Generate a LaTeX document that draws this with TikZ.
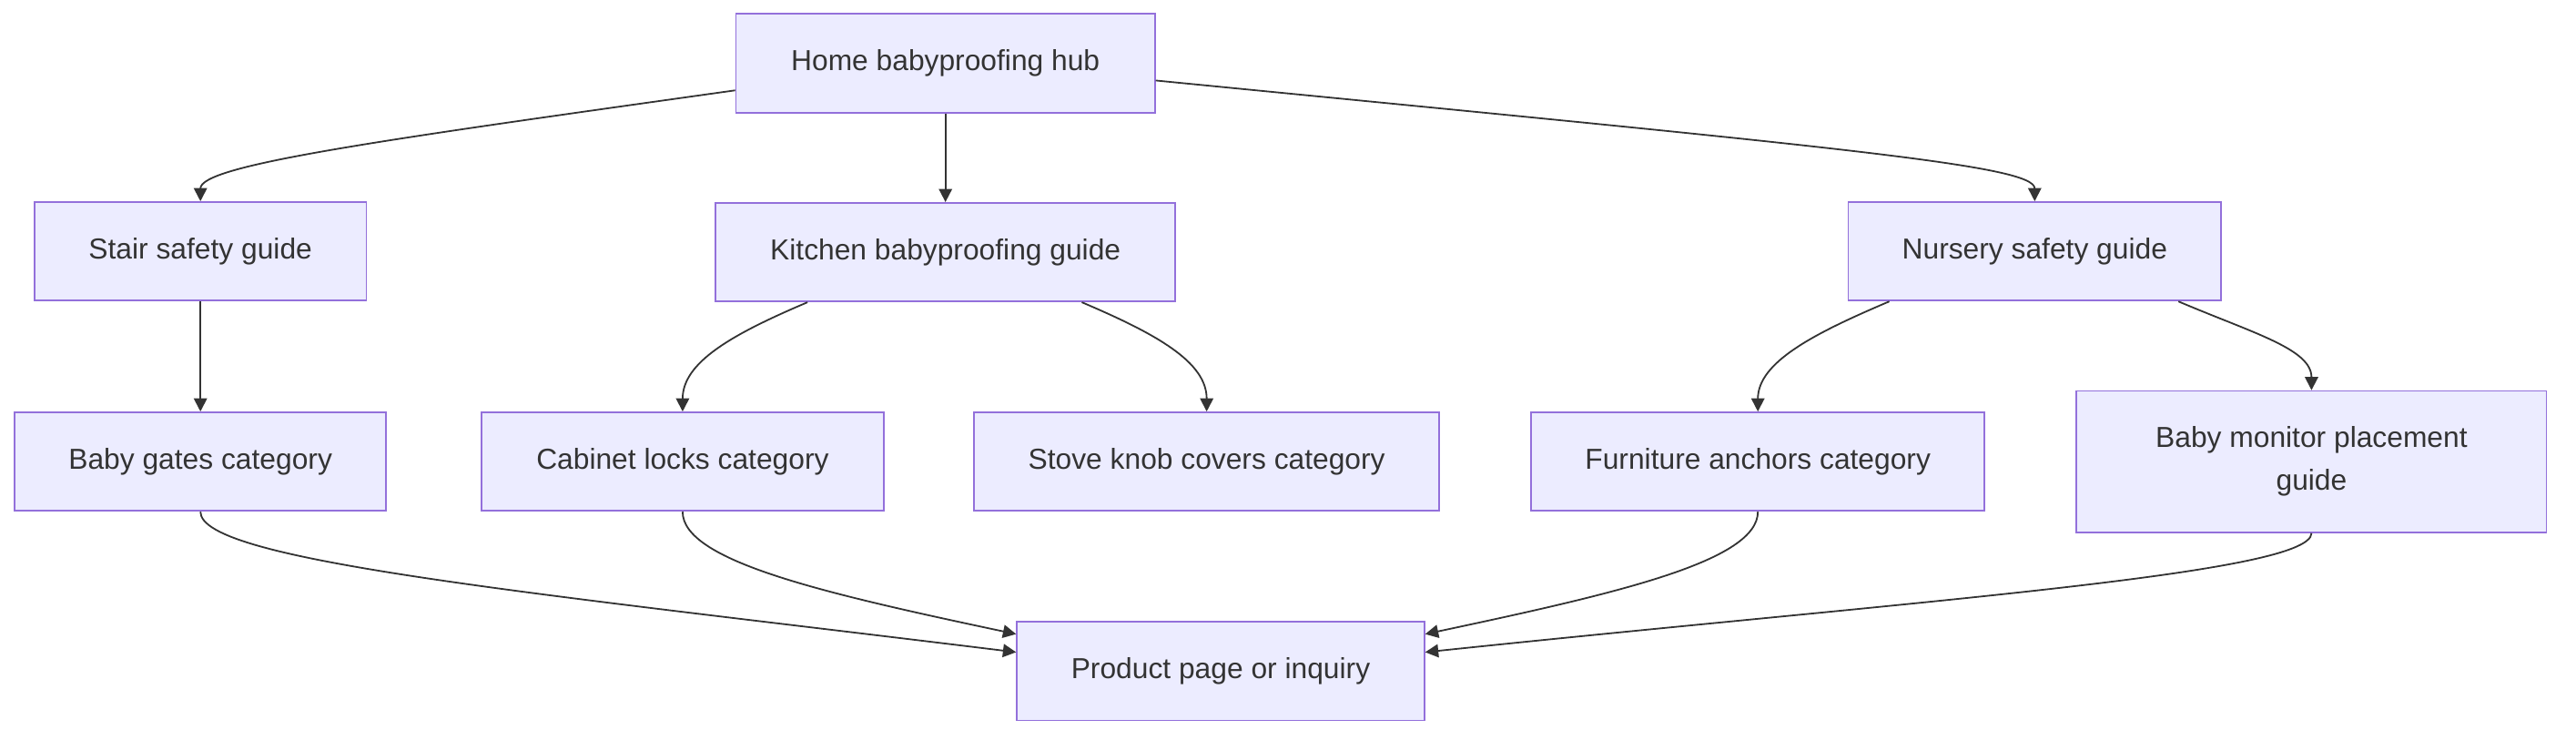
\documentclass[tikz,border=0pt]{standalone}
\usepackage{fontspec}
\setmainfont{Liberation Sans}
\usetikzlibrary{arrows.meta, positioning}
\definecolor{mmfill}{HTML}{ECECFF}
\definecolor{mmborder}{HTML}{9370DB}
\definecolor{mmtext}{HTML}{333333}
\tikzset{guidebox/.style={draw=mmborder, fill=mmfill, line width=1pt, text=mmtext, font=\fontsize{17.6}{26}\selectfont, minimum height=60pt, inner sep=0pt, align=center}}
\tikzset{flowarrow/.style={-{Triangle[length=8pt, width=8pt]}, draw=mmtext, line width=1pt}}

\begin{document}
\begin{tikzpicture}[x=1pt, y=1pt]
\useasboundingbox (0,0) rectangle (1568,-450);

% hub and guides
\node[guidebox, minimum width=255pt] (hub) at (575.5,-38.5) {Home babyproofing hub};
\node[guidebox, minimum width=202pt] (stair) at (122,-153) {Stair safety guide};
\node[guidebox, minimum width=280pt, below = 54pt of hub] (kitchen) {Kitchen babyproofing guide};
\node[guidebox, minimum width=227pt] (nursery) at (1238.5,-153) {Nursery safety guide};

% categories
\node[guidebox, minimum width=226pt, below = 67pt of stair] (gates) {Baby gates category};
\node[guidebox, minimum width=245pt] (cabinet) at (415.5,-281) {Cabinet locks category};
\node[guidebox, minimum width=283pt] (stove) at (734.5,-281) {Stove knob covers category};
\node[guidebox, minimum width=276pt] (furniture) at (1070,-281) {Furniture anchors category};
\node[guidebox, minimum width=286pt, minimum height=86pt] (monitor) at (1407,-281) {Baby monitor placement\\guide};

\node[guidebox, minimum width=248pt] (product) at (743,-408.5) {Product page or inquiry};

\draw[flowarrow] ([yshift=-16.5pt]hub.west) to[out=188, in=90, out distance=220pt, in distance=22pt] (stair.north);
\draw[flowarrow] (hub) -- (kitchen);
\draw[flowarrow] ([yshift=-10.5pt]hub.east) to[out=-5.6, in=90, out distance=420pt, in distance=22pt] (nursery.north);

\draw[flowarrow] (stair) -- (gates);
\draw[flowarrow] ([xshift=-84pt]kitchen.south) to[out=203, in=90, out distance=50pt, in distance=30pt] (cabinet.north);
\draw[flowarrow] ([xshift=83pt]kitchen.south) to[out=-23, in=90, out distance=50pt, in distance=30pt] (stove.north);
\draw[flowarrow] ([xshift=-88.5pt]nursery.south) to[out=203, in=90, out distance=50pt, in distance=30pt] (furniture.north);
\draw[flowarrow] ([xshift=87.5pt]nursery.south) to[out=-23, in=90, out distance=50pt, in distance=25pt] (monitor.north);

\draw[flowarrow] (gates.south) to[out=-90, in=173, out distance=30pt, in distance=300pt] ([yshift=11.5pt]product.west);
\draw[flowarrow] (cabinet.south) to[out=-90, in=168, out distance=30pt, in distance=120pt] ([yshift=22.5pt]product.west);
\draw[flowarrow] (furniture.south) to[out=-90, in=12, out distance=30pt, in distance=120pt] ([yshift=22.5pt]product.east);
\draw[flowarrow] (monitor.south) to[out=-90, in=6, out distance=25pt, in distance=300pt] ([yshift=11.5pt]product.east);

\end{tikzpicture}
\end{document}
